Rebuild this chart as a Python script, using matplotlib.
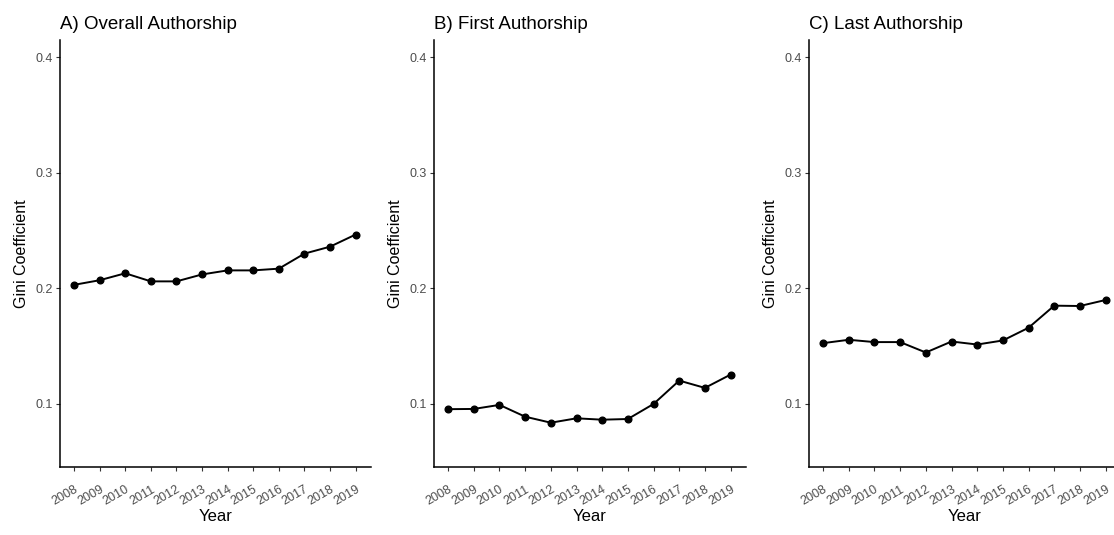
import matplotlib
matplotlib.use("Agg")
import matplotlib.pyplot as plt

plt.rcParams['font.family'] = ['Liberation Sans', 'DejaVu Sans']

# Datos
years = [2008, 2009, 2010, 2011, 2012, 2013, 2014, 2015, 2016, 2017, 2018, 2019]
gini_overall = [0.203, 0.207, 0.213, 0.206, 0.206, 0.212, 0.2155, 0.2155, 0.217, 0.230, 0.236, 0.2465]
gini_first = [0.0955, 0.0957, 0.0992, 0.0890, 0.0838, 0.0876, 0.0864, 0.0870, 0.1000, 0.1202, 0.1139, 0.1254]
gini_last = [0.1526, 0.1555, 0.1535, 0.1535, 0.1445, 0.1540, 0.1514, 0.1549, 0.1659, 0.1850, 0.1847, 0.1899]
titles = ["A) Overall Authorship", "B) First Authorship", "C) Last Authorship"]
yticks = [0.1, 0.2, 0.3, 0.4]

W, H = 1114, 535
fig = plt.figure(figsize=(W / 100, H / 100), dpi=100)

# posiciones de los paneles en pixeles (izquierda, derecha)
paneles = [(60, 371), (434, 746), (809, 1121)]
top, bottom = 40, 467

for (x0, x1), titulo, serie in zip(paneles, titles, [gini_overall, gini_first, gini_last]):
    ax = fig.add_axes([x0 / W, 1 - bottom / H, (x1 - x0) / W, (bottom - top) / H])
    ax.plot(years, serie, color='black', linewidth=1.4, marker='o', markersize=4.8)
    ax.set_xlim(2007.45, 2019.6)
    ax.set_ylim(0.0455, 0.4147)
    ax.set_xticks(years)
    ax.set_xticklabels([str(y) for y in years], rotation=30, ha='right',
                       rotation_mode='anchor', fontsize=9, color='#4d4d4d')
    ax.set_yticks(yticks)
    ax.set_yticklabels([str(t) for t in yticks], fontsize=9, color='#4d4d4d')
    ax.tick_params(length=3, width=0.8, color='#333333', pad=2)
    ax.tick_params(axis='x', pad=9)
    ax.spines['top'].set_visible(False)
    ax.spines['right'].set_visible(False)
    ax.spines['left'].set_linewidth(1.1)
    ax.spines['bottom'].set_linewidth(1.1)
    ax.set_xlabel("Year", fontsize=12, labelpad=1)
    ax.set_ylabel("Gini Coefficient", fontsize=11.5, labelpad=5)
    ax.set_title(titulo, fontsize=13.5, loc='left', pad=8, x=0.0)

fig.savefig("out.png", dpi=100)
